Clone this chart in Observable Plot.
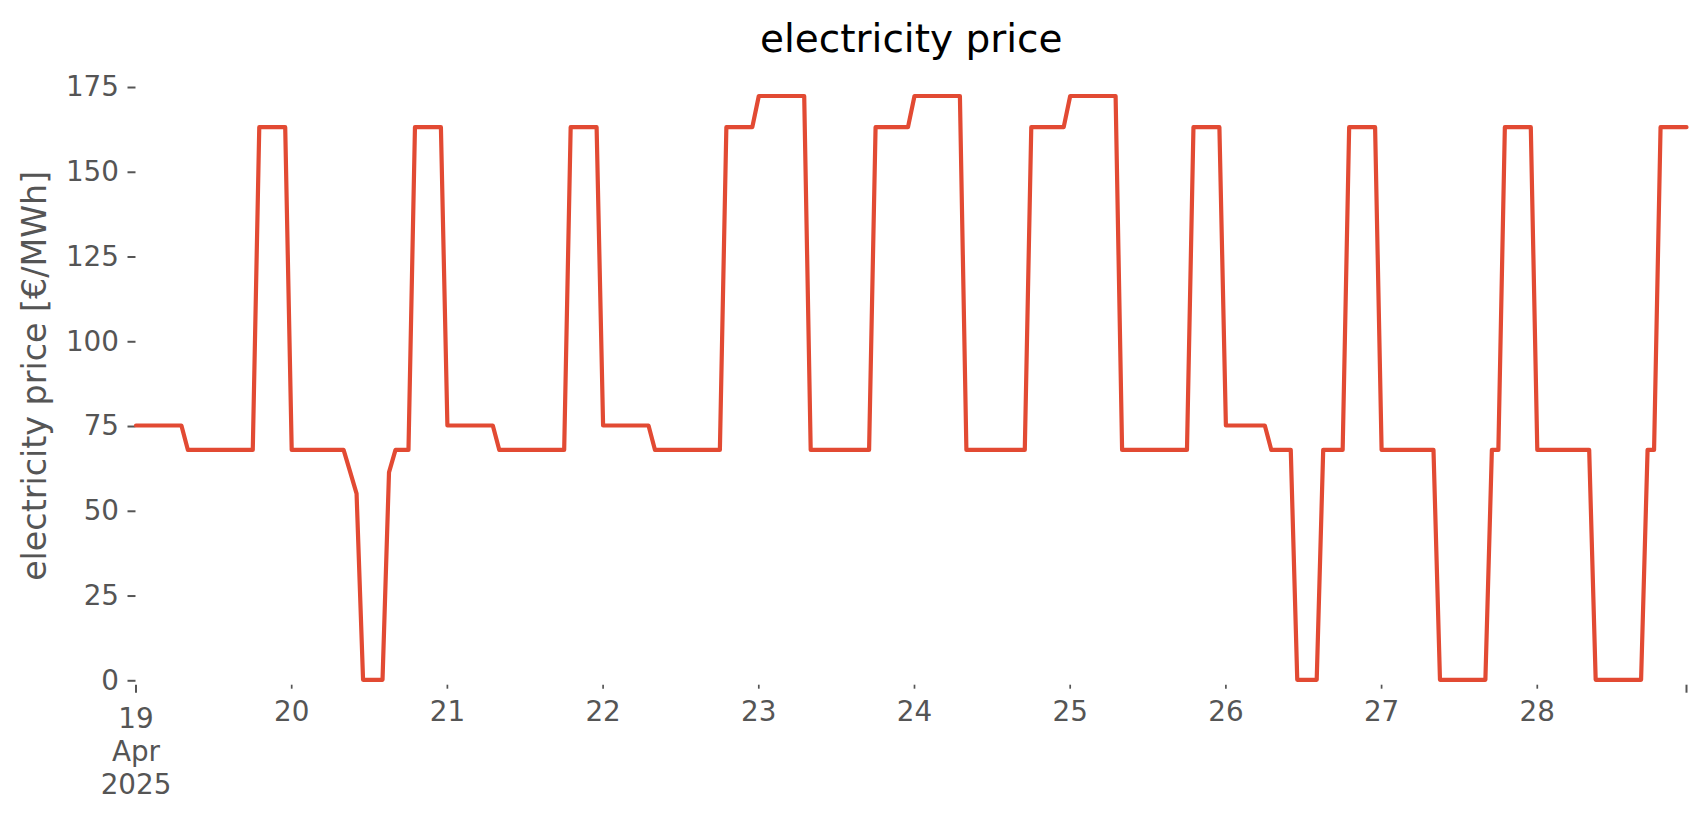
<!DOCTYPE html>
<html>
<head>
<meta charset="utf-8">
<script src="https://cdn.jsdelivr.net/npm/d3@7"></script>
<script src="https://cdn.jsdelivr.net/npm/@observablehq/plot@0.6"></script>
<style>
  html, body { margin: 0; padding: 0; background: #ffffff; }
  #chart svg { display: block; }
</style>
</head>
<body>
<div id="chart"></div>
<script>
// ---- data (hourly electricity price, €/MWh) ----
const days = ["2025-04-19","2025-04-20","2025-04-21","2025-04-22","2025-04-23",
              "2025-04-24","2025-04-25","2025-04-26","2025-04-27","2025-04-28"];

const apr19 = [75.3,75.3,75.3,75.3,75.3,75.3,75.3,75.3, 68.1,68.1,68.1,68.1,68.1,68.1,68.1,68.1,68.1,68.1,68.1, 163.3,163.3,163.3,163.3,163.3];
const apr20 = [68.1,68.1,68.1,68.1,68.1,68.1,68.1,68.1,68.1, 61.7,55.2, 0.3,0.3,0.3,0.3, 61.5, 68.1,68.1,68.1, 163.3,163.3,163.3,163.3,163.3];
const apr21 = [75.3,75.3,75.3,75.3,75.3,75.3,75.3,75.3, 68.1,68.1,68.1,68.1,68.1,68.1,68.1,68.1,68.1,68.1,68.1, 163.3,163.3,163.3,163.3,163.3];
const apr22 = [75.3,75.3,75.3,75.3,75.3,75.3,75.3,75.3, 68.1,68.1,68.1,68.1,68.1,68.1,68.1,68.1,68.1,68.1,68.1, 163.3,163.3,163.3,163.3,163.3];
const apr23 = [172.5,172.5,172.5,172.5,172.5,172.5,172.5,172.5, 68.1,68.1,68.1,68.1,68.1,68.1,68.1,68.1,68.1,68.1, 163.3,163.3,163.3,163.3,163.3,163.3];
const apr24 = [172.5,172.5,172.5,172.5,172.5,172.5,172.5,172.5, 68.1,68.1,68.1,68.1,68.1,68.1,68.1,68.1,68.1,68.1, 163.3,163.3,163.3,163.3,163.3,163.3];
const apr25 = [172.5,172.5,172.5,172.5,172.5,172.5,172.5,172.5, 68.1,68.1,68.1,68.1,68.1,68.1,68.1,68.1,68.1,68.1,68.1, 163.3,163.3,163.3,163.3,163.3];
const apr26 = [75.3,75.3,75.3,75.3,75.3,75.3,75.3, 68.1,68.1,68.1,68.1, 0.3,0.3,0.3,0.3, 68.1,68.1,68.1,68.1, 163.3,163.3,163.3,163.3,163.3];
const apr27 = [68.1,68.1,68.1,68.1,68.1,68.1,68.1,68.1,68.1, 0.3,0.3,0.3,0.3,0.3,0.3,0.3,0.3, 68.1,68.1, 163.3,163.3,163.3,163.3,163.3];
const apr28 = [68.1,68.1,68.1,68.1,68.1,68.1,68.1,68.1,68.1, 0.3,0.3,0.3,0.3,0.3,0.3,0.3,0.3, 68.1,68.1, 163.3,163.3,163.3,163.3,163.3];

const pricesByDay = [apr19, apr20, apr21, apr22, apr23, apr24, apr25, apr26, apr27, apr28];
const dayTickLabels = ["19\nApr\n2025","20","21","22","23","24","25","26","27","28"];
const yTicks = [0, 25, 50, 75, 100, 125, 150, 175];
const titleText = "electricity price";
const yLabelText = "electricity price [€/MWh]";

// ---- table ----
const table = [];
pricesByDay.forEach((vals, d) => {
  const base = new Date(days[d] + "T00:00:00Z");
  vals.forEach((v, h) => table.push({time: new Date(+base + h * 3600e3), price: v}));
});
const start = table[0].time;
const end = table[table.length - 1].time;
const dayTicks = days.map(s => new Date(s + "T00:00:00Z"));
const labelByTime = new Map(dayTicks.map((d, i) => [+d, dayTickLabels[i]]));

const grey = "#555555";
const chart = Plot.plot({
  width: 1706,
  height: 815,
  marginLeft: 135.5,
  marginRight: 20,
  marginTop: 66,
  marginBottom: 130.3,
  style: {fontFamily: "DejaVu Sans", background: "#ffffff", color: grey, overflow: "visible"},
  x: {type: "utc", domain: [start, end]},
  y: {domain: [-1.3, 181.2]},
  marks: [
    Plot.axisY({ticks: yTicks, tickSize: 8, tickPadding: 9, fontSize: 27.8, label: null,
                stroke: grey, strokeWidth: 2, fill: grey, tickFormat: d => String(d)}),
    Plot.axisX({ticks: dayTicks.slice(1), tickSize: 4, tickPadding: 12, fontSize: 27.8, label: null,
                stroke: grey, strokeWidth: 1.7, fill: grey, tickFormat: d => labelByTime.get(+d)}),
    Plot.axisX({ticks: [start, end], tickSize: 8, tickPadding: 12, fontSize: 27.8, lineHeight: 1.18, label: null,
                stroke: grey, strokeWidth: 2, fill: grey, tickFormat: d => (+d === +start ? dayTickLabels[0] : "")}),
    Plot.line(table, {x: "time", y: "price", stroke: "#E24A33", strokeWidth: 4.2, strokeLinejoin: "round"}),
    Plot.text([titleText], {frameAnchor: "top", dy: -14.3, lineAnchor: "bottom", fontSize: 39, fill: "#000000", text: d => d}),
    Plot.text([yLabelText], {frameAnchor: "left", textAnchor: "middle", lineAnchor: "middle", dx: -100.5, rotate: -90, fontSize: 33.3, fill: grey, text: d => d})
  ]
});
document.getElementById("chart").appendChild(chart);
</script>
</body>
</html>
